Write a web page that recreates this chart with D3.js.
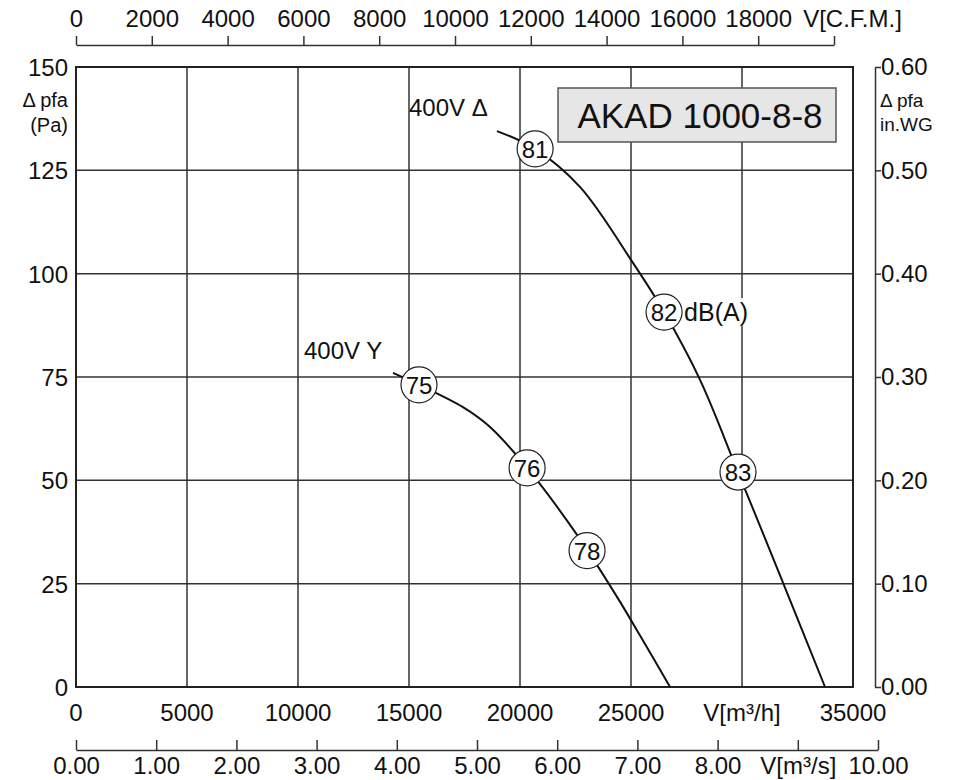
<!DOCTYPE html>
<html>
<head>
<meta charset="utf-8">
<script src="https://cdn.jsdelivr.net/npm/d3@7"></script>
<style>
  body { margin: 0; background: #fff; }
  text { font-family: "Liberation Sans", Arial, sans-serif; fill: #111; }
</style>
</head>
<body>
<div id="chart"></div>
<script>
// ---- data ----
var flowTicks = [0, 5000, 10000, 15000, 20000, 25000, 30000, 35000];   // m3/h
var flowLabels = ["0", "5000", "10000", "15000", "20000", "25000", "V[m³/h]", "35000"];
var pressTicks = [0, 25, 50, 75, 100, 125, 150];                        // Pa
var cfmTicks = [0, 2000, 4000, 6000, 8000, 10000, 12000, 14000, 16000, 18000, 20000];
var cfmLabels = ["0", "2000", "4000", "6000", "8000", "10000", "12000", "14000", "16000", "18000", "V[C.F.M.]"];
var m3sTicks = [0, 1, 2, 3, 4, 5, 6, 7, 8, 9, 10];
var m3sLabels = ["0.00", "1.00", "2.00", "3.00", "4.00", "5.00", "6.00", "7.00", "8.00", "V[m³/s]", "10.00"];
var wgTicks = [0, 0.1, 0.2, 0.3, 0.4, 0.5, 0.6];

// 400V delta curve
var deltaV = [18960, 20680, 22700, 25090, 26490, 28110, 29820, 31850, 33740];
var deltaP = [134.5, 130.2, 121.0, 102.6, 90.7, 74.3, 52.0, 25.2, 0];
// 400V Y curve
var starV = [14280, 15450, 17430, 18650, 20320, 22570, 24370, 25400, 26760];
var starP = [76.0, 73.1, 67.7, 62.9, 53.0, 36.8, 21.8, 12.5, 0];

// sound level markers dB(A)
var markV = [20680, 26490, 29820, 15450, 20320, 23020];
var markP = [130.2, 90.7, 52.0, 73.1, 53.0, 33.0];
var markDb = ["81", "82", "83", "75", "76", "78"];

var W = 968, H = 780;
var svg = d3.select("#chart").append("svg").attr("width", W).attr("height", H);

var x = d3.scaleLinear().domain([0, 35000]).range([76, 853]);
var y = d3.scaleLinear().domain([0, 150]).range([687, 67]);
var xCfm = d3.scaleLinear().domain([0, 20000]).range([76, 834]);
var xM3s = d3.scaleLinear().domain([0, 10]).range([76, 878]);
var yWg = d3.scaleLinear().domain([0, 0.6]).range([687, 67]);

function styleAxis(g) {
    g.select(".domain").attr("stroke", "#333").attr("stroke-width", 1.5);
    g.selectAll(".tick line").attr("stroke", "#333").attr("stroke-width", 1.5);
    g.selectAll(".tick text").style("font-size", "24px")
        .style("font-family", "Liberation Sans, Arial, sans-serif").attr("fill", "#111");
}

// grid
svg.append("g").selectAll("line").data(flowTicks.slice(1, -1)).enter().append("line")
    .attr("x1", function (d) { return x(d); }).attr("x2", function (d) { return x(d); })
    .attr("y1", y(150)).attr("y2", y(0))
    .attr("stroke", "#333").attr("stroke-width", 1.5);
svg.append("g").selectAll("line").data(pressTicks.slice(1, -1)).enter().append("line")
    .attr("x1", x(0)).attr("x2", x(35000))
    .attr("y1", function (d) { return y(d); }).attr("y2", function (d) { return y(d); })
    .attr("stroke", "#333").attr("stroke-width", 1.5);

// frame
svg.append("rect").attr("x", x(0)).attr("y", y(150))
    .attr("width", x(35000) - x(0)).attr("height", y(0) - y(150))
    .attr("fill", "none").attr("stroke", "#222").attr("stroke-width", 2);

// left labels
svg.append("g").selectAll("text").data(pressTicks).enter().append("text")
    .attr("x", 68).attr("y", function (d) { return y(d) + 9; })
    .attr("text-anchor", "end").style("font-size", "24px")
    .text(function (d) { return d; });
svg.append("text").attr("x", 68).attr("y", 107).attr("text-anchor", "end")
    .style("font-size", "20px").text("Δ pfa");
svg.append("text").attr("x", 68).attr("y", 132).attr("text-anchor", "end")
    .style("font-size", "20px").text("(Pa)");

// bottom m3/h labels
svg.append("g").selectAll("text").data(flowTicks).enter().append("text")
    .attr("x", function (d) { return x(d); }).attr("y", 721)
    .attr("text-anchor", "middle").style("font-size", "24px")
    .text(function (d, i) { return flowLabels[i]; });

// top CFM axis
var topAxis = svg.append("g").attr("transform", "translate(0,45)")
    .call(d3.axisTop(xCfm).tickValues(cfmTicks).tickSize(9).tickSizeOuter(0)
        .tickFormat(function (d, i) { return cfmLabels[i]; }));
styleAxis(topAxis);
topAxis.selectAll(".tick text").attr("y", -18);
topAxis.selectAll(".tick").filter(function (d) { return d === 20000; }).select("text")
    .attr("x", 18);

// bottom m3/s axis
var m3sAxis = svg.append("g").attr("transform", "translate(0,750)")
    .call(d3.axisTop(xM3s).tickValues(m3sTicks).tickSize(10).tickSizeOuter(0)
        .tickFormat(function (d, i) { return m3sLabels[i]; }));
styleAxis(m3sAxis);
m3sAxis.selectAll(".tick text").attr("y", 24).attr("dy", "0");

// right in.WG axis
var wgAxis = svg.append("g").attr("transform", "translate(875,0)")
    .call(d3.axisRight(yWg).tickValues(wgTicks).tickSize(6).tickSizeOuter(0)
        .tickFormat(d3.format(".2f")));
styleAxis(wgAxis);
wgAxis.selectAll(".tick text").attr("x", 6);
svg.append("text").attr("x", 880).attr("y", 107).style("font-size", "19px").text("Δ pfa");
svg.append("text").attr("x", 880).attr("y", 131).style("font-size", "19px").text("in.WG");

// curves
var line = d3.line()
    .x(function (d) { return x(d[0]); })
    .y(function (d) { return y(d[1]); })
    .curve(d3.curveCatmullRom.alpha(0.5));
svg.append("path").datum(d3.zip(deltaV, deltaP)).attr("d", line)
    .attr("fill", "none").attr("stroke", "#111").attr("stroke-width", 2);
svg.append("path").datum(d3.zip(starV, starP)).attr("d", line)
    .attr("fill", "none").attr("stroke", "#111").attr("stroke-width", 2);

// curve labels
svg.append("text").attr("x", 409).attr("y", 116).style("font-size", "24px").text("400V Δ");
svg.append("text").attr("x", 304).attr("y", 359).style("font-size", "24px").text("400V Y");
var dbG = svg.append("g");
var dbText = dbG.append("text").attr("x", x(26490) + 20).attr("y", y(90.7) + 9)
    .style("font-size", "25px").text("dB(A)");
var bb = dbText.node().getBBox();
dbG.insert("rect", "text").attr("x", bb.x).attr("y", bb.y)
    .attr("width", bb.width + 2).attr("height", bb.height).attr("fill", "#fff");

// markers
var marks = svg.append("g").selectAll("g").data(d3.range(markDb.length)).enter().append("g")
    .attr("transform", function (i) { return "translate(" + x(markV[i]) + "," + y(markP[i]) + ")"; });
marks.append("circle").attr("r", 18).attr("fill", "#fff").attr("stroke", "#222").attr("stroke-width", 1.2);
marks.append("text").attr("text-anchor", "middle").attr("y", 9).style("font-size", "24px")
    .text(function (i) { return markDb[i]; });

// title box
svg.append("rect").attr("x", 558).attr("y", 88).attr("width", 278).attr("height", 54)
    .attr("fill", "#e6e6e6").attr("stroke", "#555").attr("stroke-width", 1.5);
svg.append("text").attr("x", 700).attr("y", 128).attr("text-anchor", "middle")
    .style("font-size", "35px").text("AKAD 1000-8-8");
</script>
</body>
</html>
